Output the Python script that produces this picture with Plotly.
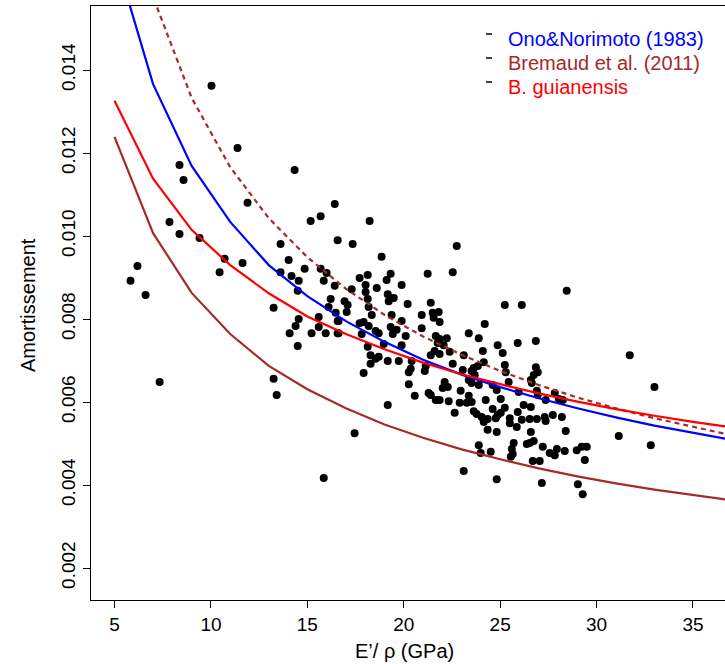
import plotly.graph_objects as go

# ---- scatter data (E'/rho in GPa, damping) ----
pts_x = [
    10.03, 11.38, 8.37, 8.58, 14.34, 11.90, 7.85, 8.37, 9.41, 6.19, 5.83, 6.61, 10.71, 10.45, 11.64,
    13.61, 14.03, 13.61, 14.18, 14.55, 14.50, 13.25, 14.55, 15.59, 16.42, 15.17, 15.69, 16.57, 14.86,
    15.69, 16.00, 15.85, 16.42, 16.21, 16.10, 16.47, 14.39, 14.08, 15.59, 15.22, 15.95, 16.57, 16.57,
    14.50, 7.34, 13.25, 13.41, 15.85,
    18.23, 17.35, 18.85, 22.75, 17.71, 18.13, 18.02, 18.60, 19.32, 19.11, 19.89, 17.30, 16.93, 17.09,
    17.04, 16.62, 16.62, 18.13, 18.18, 18.34, 18.02, 19.17, 19.48, 19.22, 20.20, 19.37, 19.89, 17.71,
    17.92, 18.18, 19.32, 19.63, 18.54, 18.70, 19.43, 20.10, 17.82, 18.13, 18.96, 19.89, 21.24, 21.40,
    22.54, 20.93, 20.93, 21.50, 21.81, 21.55, 21.86, 21.66, 21.86, 22.23, 21.76, 22.07, 21.40, 21.60,
    21.86, 22.38, 22.54, 18.28, 18.54, 18.70, 18.28, 19.17, 19.74, 20.41, 17.92, 20.26, 20.36, 21.09,
    21.14, 20.26, 20.57, 21.29, 21.40, 21.66, 21.86, 22.33, 22.64, 19.17, 17.45, 22.02, 22.12, 22.28,
    22.95, 22.90,
    28.45, 25.24, 26.12, 24.20, 23.37, 23.89, 24.87, 25.91, 26.85, 24.10, 25.13, 23.11, 24.15, 23.84,
    23.63, 23.52, 23.06, 25.24, 25.29, 25.44, 26.85, 26.95, 26.74, 26.59, 26.64, 26.90, 26.95, 27.83,
    28.04, 28.25, 25.96, 23.68, 23.37, 23.52, 23.89, 24.61, 24.82, 23.27, 23.52, 23.37, 24.25, 25.03,
    26.22, 26.59, 27.36, 24.61, 25.24, 23.63, 23.78, 24.04, 24.15, 24.35, 24.77, 24.87, 25.03, 25.50,
    25.50, 25.91, 26.12, 25.86, 26.53, 26.90, 27.31, 27.36, 27.73, 28.20, 24.35, 24.82, 26.59, 28.40,
    25.70, 25.60, 26.38, 26.53, 26.74, 27.21, 27.94, 25.65, 25.55, 23.89, 23.99, 24.51, 27.57, 27.83,
    28.35, 28.97, 29.23, 29.49, 29.39, 26.69, 27.05, 23.11, 24.82, 27.16, 29.03, 29.28, 31.15, 31.72,
    33.00, 32.81,
]
pts_y = [
    0.01362, 0.01212, 0.01171, 0.01135, 0.01159, 0.01080, 0.01034, 0.01005, 0.00995, 0.00928, 0.00892,
    0.00858, 0.00945, 0.00913, 0.00935, 0.00981, 0.00942, 0.00913, 0.00904, 0.00892, 0.00868, 0.00827,
    0.00800, 0.00805, 0.01077, 0.01036, 0.01048, 0.00990, 0.00921, 0.00921, 0.00911, 0.00892, 0.00880,
    0.00848, 0.00829, 0.00815, 0.00783, 0.00766, 0.00781, 0.00766, 0.00766, 0.00795, 0.00766, 0.00735,
    0.00648, 0.00656, 0.00617, 0.00417,
    0.01036, 0.00981, 0.00950, 0.00976, 0.00899, 0.00906, 0.00882, 0.00875, 0.00909, 0.00894, 0.00882,
    0.00872, 0.00843, 0.00834, 0.00817, 0.00795, 0.00766, 0.00848, 0.00829, 0.00810, 0.00865, 0.00860,
    0.00851, 0.00843, 0.00836, 0.00810, 0.00795, 0.00790, 0.00793, 0.00783, 0.00781, 0.00774, 0.00771,
    0.00766, 0.00764, 0.00759, 0.00764, 0.00733, 0.00740, 0.00737, 0.00909, 0.00839, 0.00913, 0.00810,
    0.00778, 0.00815, 0.00817, 0.00803, 0.00793, 0.00759, 0.00752, 0.00754, 0.00742, 0.00737, 0.00713,
    0.00723, 0.00716, 0.00721, 0.00692, 0.00713, 0.00704, 0.00709, 0.00692, 0.00699, 0.00699, 0.00699,
    0.00670, 0.00672, 0.00680, 0.00675, 0.00687, 0.00643, 0.00615, 0.00622, 0.00617, 0.00605, 0.00605,
    0.00602, 0.00574, 0.00593, 0.00525, 0.00634, 0.00648, 0.00636, 0.00627, 0.00598,
    0.00868, 0.00834, 0.00834, 0.00788, 0.00766, 0.00754, 0.00737, 0.00742, 0.00747, 0.00723, 0.00718,
    0.00713, 0.00696, 0.00687, 0.00682, 0.00675, 0.00677, 0.00689, 0.00672, 0.00648, 0.00684, 0.00672,
    0.00665, 0.00653, 0.00646, 0.00627, 0.00617, 0.00622, 0.00607, 0.00605, 0.00624, 0.00665, 0.00653,
    0.00646, 0.00641, 0.00641, 0.00629, 0.00598, 0.00600, 0.00615, 0.00605, 0.00607, 0.00593, 0.00588,
    0.00605, 0.00583, 0.00586, 0.00578, 0.00571, 0.00564, 0.00552, 0.00559, 0.00561, 0.00569, 0.00574,
    0.00561, 0.00549, 0.00576, 0.00557, 0.00540, 0.00559, 0.00559, 0.00564, 0.00554, 0.00569, 0.00564,
    0.00533, 0.00528, 0.00528, 0.00530, 0.00501, 0.00487, 0.00499, 0.00501, 0.00506, 0.00492, 0.00487,
    0.00475, 0.00468, 0.00496, 0.00477, 0.00480, 0.00477, 0.00472, 0.00482, 0.00484, 0.00492, 0.00492,
    0.00460, 0.00458, 0.00458, 0.00434, 0.00414, 0.00405, 0.00402, 0.00378, 0.00518, 0.00713, 0.00636,
    0.00496,
]

# ---- model curves (values read at E'/rho = 5, 7, ..., 37) ----
curve_x = [5, 7, 9, 11, 13, 15, 17, 19, 21, 23, 25, 27, 29, 31, 33, 35, 37]
ono_y = [0.01680, 0.01366, 0.01169, 0.01034, 0.00930, 0.00855, 0.00795, 0.00745, 0.00702, 0.00666,
         0.00636, 0.00609, 0.00585, 0.00563, 0.00543, 0.00525, 0.00509]
bremaud_low_y = [0.01239, 0.01007, 0.00863, 0.00764, 0.00687, 0.00631, 0.00585, 0.00546, 0.00514,
                 0.00486, 0.00462, 0.00440, 0.00421, 0.00404, 0.00389, 0.00375, 0.00363]
bremaud_high_y = [0.01972, 0.01576, 0.01333, 0.01166, 0.01043, 0.00949, 0.00873, 0.00810, 0.00758,
                  0.00714, 0.00675, 0.00641, 0.00611, 0.00585, 0.00561, 0.00540, 0.00520]
guianensis_y = [0.01326, 0.01138, 0.01015, 0.00930, 0.00862, 0.00806, 0.00764, 0.00727, 0.00695,
                0.00667, 0.00643, 0.00621, 0.00601, 0.00583, 0.00567, 0.00552, 0.00539]

legend_labels = ["Ono&Norimoto (1983)", "Bremaud et al. (2011)", "B. guianensis"]
legend_colors = ["#0000FF", "#A52A2A", "#FF0000"]

x_ticks = [5, 10, 15, 20, 25, 30, 35]
y_ticks = [0.002, 0.004, 0.006, 0.008, 0.010, 0.012, 0.014]

FONT = "Liberation Sans, Arial, sans-serif"
W, H = 725, 664
L, R, T, B = 91, 0, 6, 64
PW, PH = W - L - R, H - T - B

def px(xp):
    return (xp - L) / PW

def py(yp):
    return (H - B - yp) / PH

fig = go.Figure()
fig.add_trace(go.Scatter(x=pts_x, y=pts_y, mode="markers",
                         marker=dict(color="black", size=8, line=dict(width=0)),
                         showlegend=False, hoverinfo="x+y"))
fig.add_trace(go.Scatter(x=curve_x, y=ono_y, mode="lines",
                         line=dict(color="#0000FF", width=2.2), showlegend=False))
fig.add_trace(go.Scatter(x=curve_x, y=bremaud_low_y, mode="lines",
                         line=dict(color="#A52A2A", width=2.2), showlegend=False))
fig.add_trace(go.Scatter(x=curve_x, y=bremaud_high_y, mode="lines",
                         line=dict(color="#A52A2A", width=2.2, dash="5px,4px"), showlegend=False))
fig.add_trace(go.Scatter(x=curve_x, y=guianensis_y, mode="lines",
                         line=dict(color="#FF0000", width=2.2), showlegend=False))

annotations = []
shapes = []
for i, (lab, col) in enumerate(zip(legend_labels, legend_colors)):
    yc = 39 + 24 * i
    annotations.append(dict(xref="paper", yref="paper", x=px(506), y=py(yc), text=lab,
                            showarrow=False, xanchor="left", yanchor="middle",
                            font=dict(family=FONT, size=20, color=col)))
    shapes.append(dict(type="line", xref="paper", yref="paper",
                       x0=px(486), x1=px(492), y0=py(yc - 5), y1=py(yc - 5),
                       line=dict(color="black", width=1.5)))

annotations.append(dict(xref="paper", yref="paper", x=px(404), y=py(651),
                        text="E\u2019/ \u03c1 (GPa)", showarrow=False,
                        xanchor="center", yanchor="middle",
                        font=dict(family=FONT, size=20, color="black")))
annotations.append(dict(xref="paper", yref="paper", x=px(28), y=py(305),
                        text="Amortissement", showarrow=False, textangle=-90,
                        xanchor="center", yanchor="middle",
                        font=dict(family=FONT, size=20, color="black")))

fig.update_layout(
    width=W, height=H,
    margin=dict(l=L, r=R, t=T, b=B, pad=0),
    paper_bgcolor="white", plot_bgcolor="white",
    font=dict(family=FONT, size=19, color="black"),
    annotations=annotations, shapes=shapes,
    xaxis=dict(range=[3.78, 36.66], tickvals=x_ticks, ticktext=[str(v) for v in x_ticks],
               showgrid=False, zeroline=False, showline=True, mirror=True,
               linecolor="black", linewidth=1, ticks="outside", ticklen=7,
               tickcolor="black", tickwidth=1, tickfont=dict(family=FONT, size=19)),
    yaxis=dict(range=[0.001229, 0.015544], tickvals=y_ticks,
               ticktext=[f"{v:.3f}" for v in y_ticks], tickangle=-90,
               showgrid=False, zeroline=False, showline=True, mirror=False,
               linecolor="black", linewidth=1, ticks="outside", ticklen=7,
               tickcolor="black", tickwidth=1, tickfont=dict(family=FONT, size=19)),
)

fig.write_html("out.html", config={"displayModeBar": False},
               post_script="document.body.style.margin='0px';document.body.style.overflow='hidden';")
